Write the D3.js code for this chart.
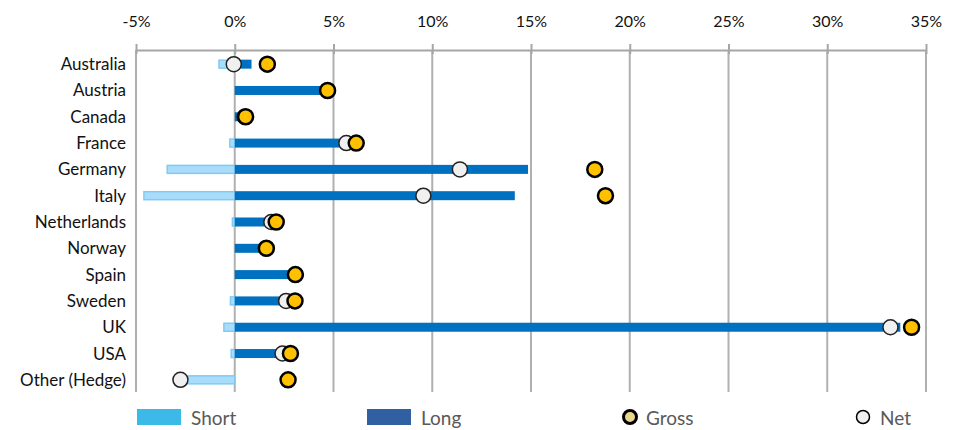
<!DOCTYPE html>
<html>
<head>
<meta charset="utf-8">
<script src="https://cdn.jsdelivr.net/npm/d3@7"></script>
<style>
  body { margin: 0; background: #fff; }
  svg { display: block; font-family: Lato, "Open Sans", sans-serif; }
</style>
</head>
<body>
<div id="chart"></div>
<script>
// Data (% of portfolio)
const countries = ["Australia", "Austria", "Canada", "France", "Germany", "Italy", "Netherlands",
  "Norway", "Spain", "Sweden", "UK", "USA", "Other (Hedge)"];
const shortVals = [-0.8, 0, 0, -0.25, -3.42, -4.6, -0.12, 0, 0, -0.22, -0.55, -0.18, -2.75];
const longVals  = [0.85, 4.7, 0.5, 5.9, 14.85, 14.18, 1.95, 1.6, 3.07, 2.83, 33.7, 2.62, 0];
const grossVals = [1.65, 4.7, 0.55, 6.15, 18.23, 18.77, 2.1, 1.6, 3.07, 3.05, 34.27, 2.82, 2.7];
const netVals   = [-0.05, 4.7, 0.5, 5.65, 11.4, 9.55, 1.85, 1.6, 3.07, 2.6, 33.2, 2.42, -2.75];
const xTicks = [-5, 0, 5, 10, 15, 20, 25, 30, 35];
const legendItems = ["Short", "Long", "Gross", "Net"];

const width = 957, height = 430;
const svg = d3.select("#chart").append("svg")
  .attr("width", width).attr("height", height);

// Scales
const x = d3.scaleLinear().domain([-5, 35]).range([136, 926]);
const y = d3.scaleBand().domain(countries).range([51, 393]);
const axisY = 50, gridBottom = 392;

// Gridlines
svg.append("g").selectAll("line").data(xTicks).join("line")
  .attr("x1", d => x(d)).attr("x2", d => x(d))
  .attr("y1", axisY).attr("y2", gridBottom)
  .attr("stroke", "#b0b0b0").attr("stroke-width", 2);

// Top axis
const xAxis = svg.append("g")
  .attr("transform", `translate(0,${axisY})`)
  .call(d3.axisTop(x).tickValues(xTicks).tickFormat(d => d + "%").tickSizeInner(6).tickSizeOuter(0));
xAxis.select(".domain").attr("stroke", "#a6a6a6").attr("stroke-width", 2);
xAxis.selectAll(".tick line").attr("stroke", "#a6a6a6").attr("stroke-width", 2).attr("y2", -6).attr("y1", 4);
xAxis.selectAll(".tick text")
  .attr("y", -23).attr("dy", 0)
  .attr("font-size", 16).attr("fill", "#111")
  .attr("font-family", "Lato, sans-serif");

// Country labels
svg.append("g").selectAll("text").data(countries).join("text")
  .attr("x", 126).attr("y", d => y(d) + y.bandwidth() / 2 + 6)
  .attr("text-anchor", "end").attr("font-size", 17).attr("fill", "#111")
  .text(d => d);

const cy = i => y(countries[i]) + y.bandwidth() / 2;

// Short bars
svg.append("g").selectAll("rect").data(shortVals).join("rect")
  .attr("x", d => x(d)).attr("width", d => x(0) - x(d))
  .attr("y", (d, i) => cy(i) - 4).attr("height", 8)
  .attr("fill", "#a8dcfa").attr("stroke", "#80cbf5").attr("stroke-width", 1.5)
  .attr("display", d => d < 0 ? null : "none");

// Long bars
svg.append("g").selectAll("rect").data(longVals).join("rect")
  .attr("x", x(0)).attr("width", d => x(d) - x(0))
  .attr("y", (d, i) => cy(i) - 4.5).attr("height", 9)
  .attr("fill", "#0070c0")
  .attr("display", d => d > 0 ? null : "none");

// Net markers
svg.append("g").selectAll("circle").data(netVals).join("circle")
  .attr("cx", d => x(d)).attr("cy", (d, i) => cy(i)).attr("r", 7.5)
  .attr("fill", "#f0f0f0").attr("stroke", "#222").attr("stroke-width", 1.5);

// Gross markers
svg.append("g").selectAll("circle").data(grossVals).join("circle")
  .attr("cx", d => x(d)).attr("cy", (d, i) => cy(i)).attr("r", 7.5)
  .attr("fill", "#ffc000").attr("stroke", "#000").attr("stroke-width", 2.5);

// Legend
const legend = svg.append("g").attr("font-size", 19).attr("fill", "#595959");
const ly = 417;
legend.append("rect").attr("x", 137).attr("y", ly - 8).attr("width", 44).attr("height", 16).attr("fill", "#3cb9e6");
legend.append("text").attr("x", 191).attr("y", ly + 8).text(legendItems[0]);
legend.append("rect").attr("x", 367).attr("y", ly - 8).attr("width", 44).attr("height", 16).attr("fill", "#3060a2");
legend.append("text").attr("x", 421).attr("y", ly + 8).text(legendItems[1]);
legend.append("circle").attr("cx", 630).attr("cy", ly).attr("r", 6.5)
  .attr("fill", "#e8d68a").attr("stroke", "#000").attr("stroke-width", 3);
legend.append("text").attr("x", 646).attr("y", ly + 8).text(legendItems[2]);
legend.append("circle").attr("cx", 863).attr("cy", ly).attr("r", 6.5)
  .attr("fill", "#f0f0f0").attr("stroke", "#000").attr("stroke-width", 1.5);
legend.append("text").attr("x", 880).attr("y", ly + 8).text(legendItems[3]);
</script>
</body>
</html>
